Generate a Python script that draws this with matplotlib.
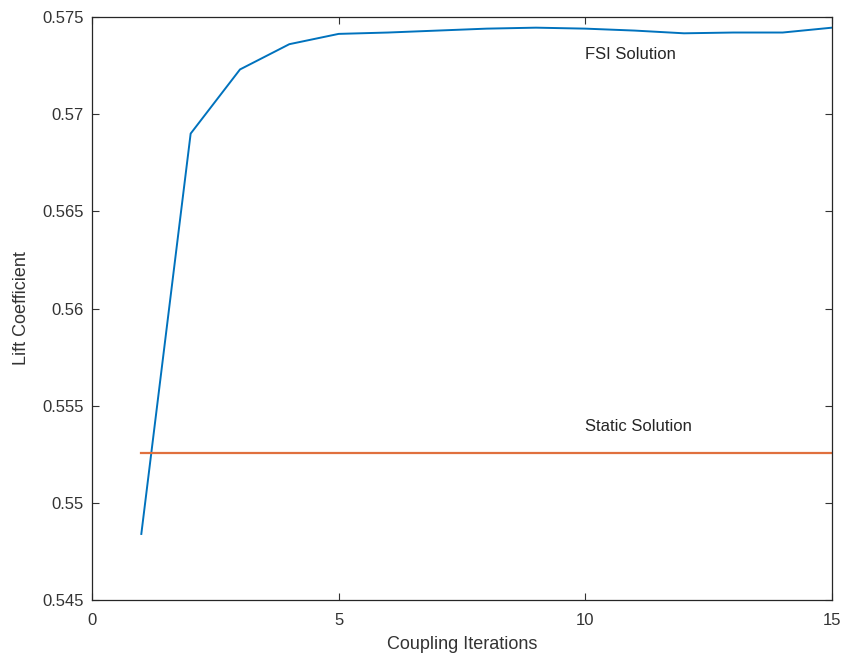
import matplotlib
matplotlib.use("Agg")
import matplotlib.pyplot as plt

# coupling iterations and lift coefficient
iters = [1, 2, 3, 4, 5, 6, 7, 8, 9, 10, 11, 12, 13, 14, 15]
cl_fsi = [0.5484, 0.5690, 0.5723, 0.5736, 0.57413, 0.5742, 0.5743, 0.5744,
          0.57445, 0.57440, 0.5743, 0.57416, 0.5742, 0.5742, 0.57445]
static_x = [1, 15]
cl_static = [0.55256, 0.55256]

plt.rcParams['font.family'] = ['Liberation Sans', 'DejaVu Sans']

fig = plt.figure(figsize=(8.47, 6.58), dpi=100)
ax = fig.add_axes([0.1086, 0.0881, 0.8737, 0.8861])

ax.plot(iters, cl_fsi, color='#0072BD', lw=1.4)
ax.plot(static_x, cl_static, color='#E0703E', lw=1.6)

ax.text(10, 0.57305, 'FSI Solution', fontsize=12, va='center', color='#262626')
ax.text(10, 0.55395, 'Static Solution', fontsize=12, va='center', color='#262626')

ax.set_xlim(0, 15)
ax.set_ylim(0.545, 0.575)
ax.set_xticks([0, 5, 10, 15])
ax.set_yticks([0.545, 0.55, 0.555, 0.56, 0.565, 0.57, 0.575])
ax.set_yticklabels(['0.545', '0.55', '0.555', '0.56', '0.565', '0.57', '0.575'])
ax.tick_params(direction='in', top=True, right=True, labelsize=12, length=5,
               colors='#333333')
ax.tick_params(axis='x', pad=9)
ax.tick_params(axis='y', pad=6)
for s in ax.spines.values():
    s.set_color('#262626')
    s.set_linewidth(0.9)

ax.set_xlabel('Coupling Iterations', fontsize=13, color='#333333')
ax.set_ylabel('Lift Coefficient', fontsize=13, color='#333333')
ax.xaxis.set_label_coords(0.5, -0.0755)
ax.yaxis.set_label_coords(-0.0946, 0.5)
ax.xaxis.label.set_va('center')
ax.yaxis.label.set_va('center')

fig.savefig('out.png', dpi=100)
